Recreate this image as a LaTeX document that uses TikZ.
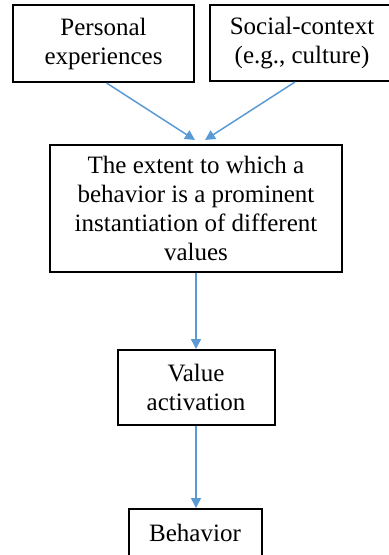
\documentclass[tikz,border=0pt]{standalone}
\usepackage{fontspec}
\setmainfont{Liberation Serif}
\usetikzlibrary{arrows.meta,positioning}
\definecolor{flowblue}{RGB}{91,155,213}

\begin{document}
\begin{tikzpicture}[x=0.5pt,y=-0.5pt,
  box/.style={draw=black, line width=1pt, align=center, inner sep=0pt,
    font=\fontsize{12.5}{14.5}\selectfont},
  flow/.style={draw=flowblue, line width=0.75pt,
    -{Triangle[length=5pt,width=5pt]}}]
\useasboundingbox (0,0) rectangle (388,555);
% top row
\node[box, minimum width=90.5pt, minimum height=38.5pt] (personal) at (103.5,43.5)
  {Personal\\experiences};
\node[box, minimum width=92pt, minimum height=38pt] (social) at (302,43)
  {Social-context\\(e.g., culture)};
% middle box
\node[box, minimum width=146pt, minimum height=63.5pt] (extent) at (196,208.5)
  {The extent to which a\\behavior is a prominent\\instantiation of different\\values};
\node[box, minimum width=78.5pt, minimum height=37.5pt] (activation) at (196,387.5)
  {Value\\activation};
\node[box, minimum width=66.5pt, text height=16pt, text depth=20pt, anchor=north]
  (behavior) at (195,508) {Behavior};
% connectors
\draw[flow] ([xshift=1.5pt]personal.south) -- ([xshift=-0.5pt,yshift=2pt]extent.north);
\draw[flow] ([xshift=-3.5pt]social.south) -- ([xshift=4.5pt,yshift=2pt]extent.north);
\draw[flow] (extent.south) -- (activation.north);
\draw[flow] (activation.south) -- (activation.south |- behavior.north);
\end{tikzpicture}
\end{document}
